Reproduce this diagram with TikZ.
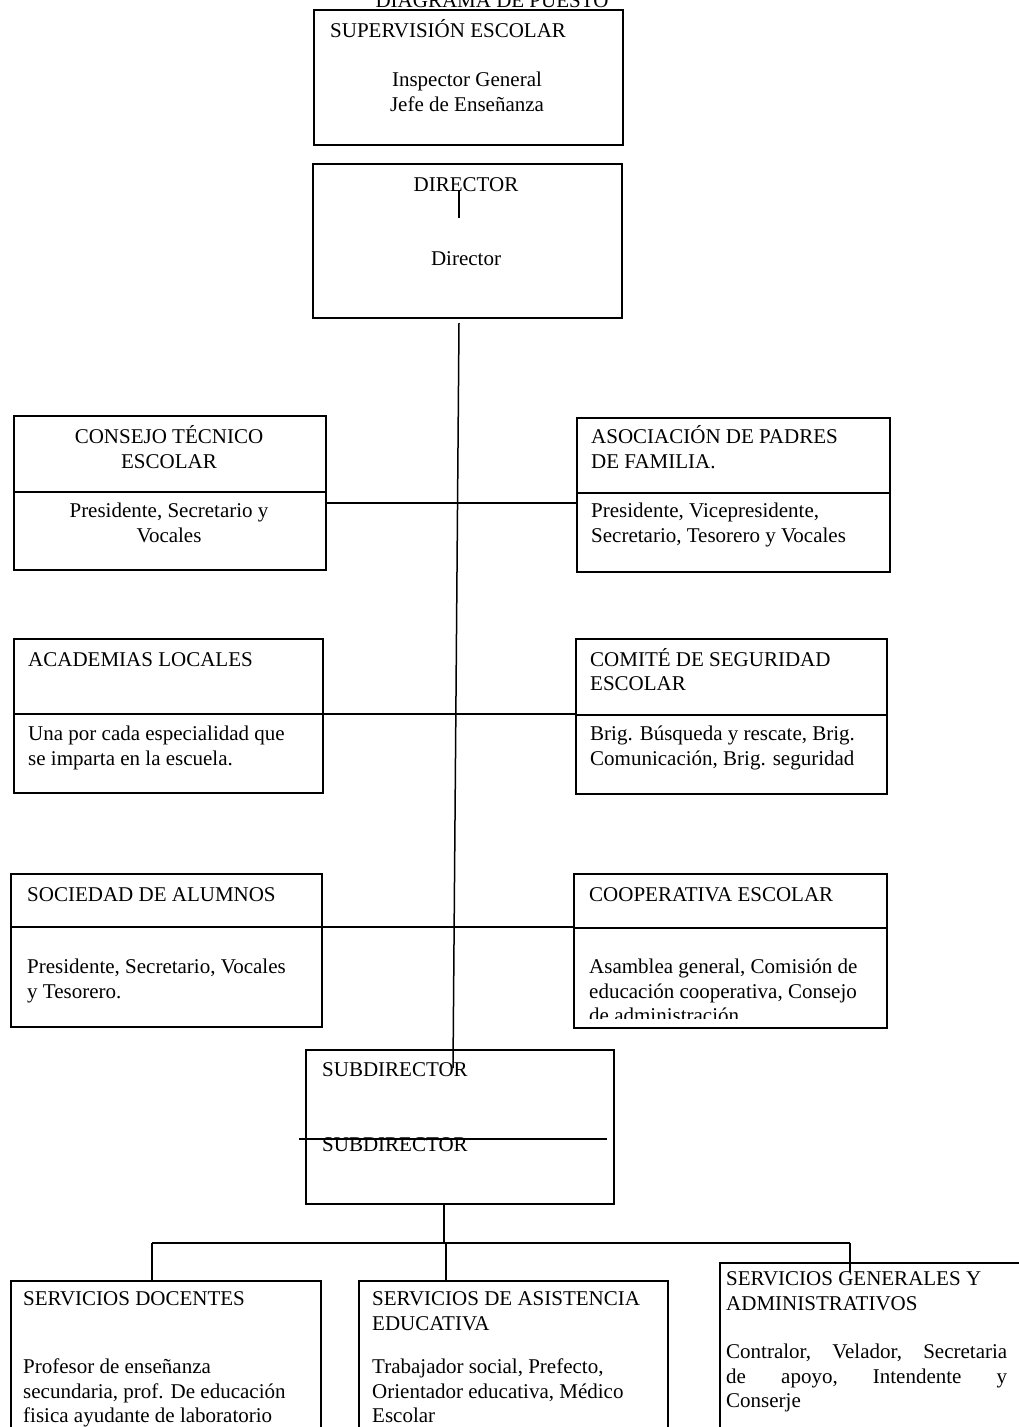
\documentclass[tikz,border=0pt]{standalone}
\usepackage{fontspec}
\setmainfont{Liberation Serif}
\begin{document}
\begin{tikzpicture}[x=1pt,y=-1pt,
  box/.style={draw, line width=1.5pt, rectangle, inner sep=0pt, anchor=north west},
  lnk/.style={line width=1.5pt},
  tl/.style={font=\fontsize{21}{24.5}\selectfont, inner sep=0pt, anchor=base west},
  tc/.style={font=\fontsize{21}{24.5}\selectfont, inner sep=0pt, anchor=base}]
\clip (0,0) rectangle (1019,1427);
\fill[white] (0,0) rectangle (1019,1427);

% title (cut at top)
\node[tc] (title) at (492,7) {DIAGRAMA DE PUESTO};

% boxes
\node[box, minimum width=309pt, minimum height=135pt] (sup) at (313,9) {};
\node[box, minimum width=309pt, minimum height=154pt] (dir) at (312,163) {};
\node[box, minimum width=312pt, minimum height=154pt] (cte) at (13,415) {};
\node[box, minimum width=313pt, minimum height=154pt] (apf) at (576,417) {};
\node[box, minimum width=309pt, minimum height=154pt] (aca) at (13,638) {};
\node[box, minimum width=311pt, minimum height=155pt] (com) at (575,638) {};
\node[box, minimum width=311pt, minimum height=153pt] (soc) at (10,873) {};
\node[box, minimum width=313pt, minimum height=154pt] (coop) at (573,873) {};
\node[box, minimum width=308pt, minimum height=154pt] (sub) at (305,1049) {};
\node[box, minimum width=310pt, minimum height=220pt] (sd) at (10,1280) {};
\node[box, minimum width=309pt, minimum height=220pt] (sae) at (358,1280) {};
\node[box, minimum width=330pt, minimum height=220pt] (sga) at (719,1262) {};

% dividers
\draw[lnk] (cte.north west) ++(0,77) -- ++(312,0);
\draw[lnk] (apf.north west) ++(0,76) -- ++(313,0);
\draw[lnk] (aca.north west) ++(0,76) -- ++(309,0);
\draw[lnk] (com.north west) ++(0,77) -- ++(311,0);
\draw[lnk] (soc.north west) ++(0,54) -- ++(311,0);
\draw[lnk] (coop.north west) ++(0,55) -- ++(313,0);

% texts: supervision
\node[tl] (t1) at (330,37) {SUPERVISIÓN ESCOLAR};
\node[tc] (t2) at (467,86) {Inspector General};
\node[tc] (t3) at (467,111) {Jefe de Enseñanza};
% director
\node[tc] (t4) at (466,191) {DIRECTOR};
\node[tc] (t5) at (466,265) {Director};
\coordinate (tk1) at (459,190);
\coordinate (tk2) at (459,218);
\draw[lnk] (tk1) -- (tk2);

% consejo
\node[tc] (t6) at (169,443) {CONSEJO TÉCNICO};
\node[tc] (t7) at (169,468) {ESCOLAR};
\node[tc] (t8) at (169,517) {Presidente, Secretario y};
\node[tc] (t9) at (169,542) {Vocales};
% asociacion
\node[tl] (t10) at (591,443) {ASOCIACIÓN DE PADRES};
\node[tl] (t11) at (591,468) {DE FAMILIA.};
\node[tl] (t12) at (591,517) {Presidente, Vicepresidente,};
\node[tl] (t13) at (591,542) {Secretario, Tesorero y Vocales};
% academias
\node[tl] (t14) at (28,666) {ACADEMIAS LOCALES};
\node[tl] (t15) at (28,740) {Una por cada especialidad que};
\node[tl] (t16) at (28,765) {se imparta en la escuela.};
% comite
\node[tl] (t17) at (590,666) {COMITÉ DE SEGURIDAD};
\node[tl] (t18) at (590,690) {ESCOLAR};
\node[tl] (t19) at (590,740) {Brig. Búsqueda y rescate, Brig.};
\node[tl] (t20) at (590,765) {Comunicación, Brig. seguridad};
% sociedad
\node[tl] (t21) at (27,901) {SOCIEDAD DE ALUMNOS};
\node[tl] (t22) at (27,973) {Presidente, Secretario, Vocales};
\node[tl] (t23) at (27,998) {y Tesorero.};
% cooperativa
\node[tl] (t24) at (589,901) {COOPERATIVA ESCOLAR};
\node[tl] (t25) at (589,973) {Asamblea general, Comisión de};
\node[tl] (t26) at (589,998) {educación cooperativa, Consejo};
\begin{scope}
  \clip (coop.north west) rectangle (886,1018);
  \node[tl] (t27) at (589,1022.5) {de administración};
\end{scope}
% subdirector
\node[tl] (t28) at (322,1076) {SUBDIRECTOR};
\node[tl] (t29) at (322,1151) {SUBDIRECTOR};
\coordinate (sl1) at (299,1139);
\coordinate (sl2) at (607,1139);
\draw[lnk] (sl1) -- (sl2);

% bottom boxes
\node[tl] (t30) at (23,1305) {SERVICIOS DOCENTES};
\node[tl] (t31) at (23,1373) {Profesor de enseñanza};
\node[tl] (t32) at (23,1398) {secundaria, prof. De educación};
\node[tl] (t33) at (23,1422.5) {fisica ayudante de laboratorio};
\node[tl] (t34) at (372,1305) {SERVICIOS DE ASISTENCIA};
\node[tl] (t35) at (372,1330) {EDUCATIVA};
\node[tl] (t36) at (372,1373) {Trabajador social, Prefecto,};
\node[tl] (t37) at (372,1398) {Orientador educativa, Médico};
\node[tl] (t38) at (372,1422.5) {Escolar};
\node[tl] (t39) at (726,1285) {SERVICIOS GENERALES Y};
\node[tl] (t40) at (726,1310) {ADMINISTRATIVOS};
\node[tl] (t41) at (726,1358) {\hbox to 281pt{Contralor,\hfill Velador,\hfill Secretaria}};
\node[tl] (t42) at (726,1383) {\hbox to 281pt{de\hfill apoyo,\hfill Intendente\hfill y}};
\node[tl] (t43) at (726,1407) {Conserje};

% main vertical connector
\coordinate (mtop) at (459,323);
\coordinate (mbot) at (453,1068);
\draw[lnk] (mtop) -- (mbot);

% row connectors
\coordinate (r1) at (0,503);
\coordinate (r2) at (0,714);
\coordinate (r3) at (0,927);
\draw[lnk] (cte.east |- r1) -- (apf.west |- r1);
\draw[lnk] (aca.east |- r2) -- (com.west |- r2);
\draw[lnk] (soc.east |- r3) -- (coop.west |- r3);

% bottom tree
\coordinate (b0) at (444,1243);
\coordinate (bl) at (152,1243);
\coordinate (bm) at (446,1243);
\coordinate (br) at (850,1243);
\coordinate (brend) at (850,1272);
\draw[lnk] (sub.south -| b0) -- (b0);
\draw[lnk] (bl) -- (br);
\draw[lnk] (bl) -- (sd.north -| bl);
\draw[lnk] (bm) -- (sae.north -| bm);
\draw[lnk] (br) -- (brend);
\end{tikzpicture}
\end{document}
